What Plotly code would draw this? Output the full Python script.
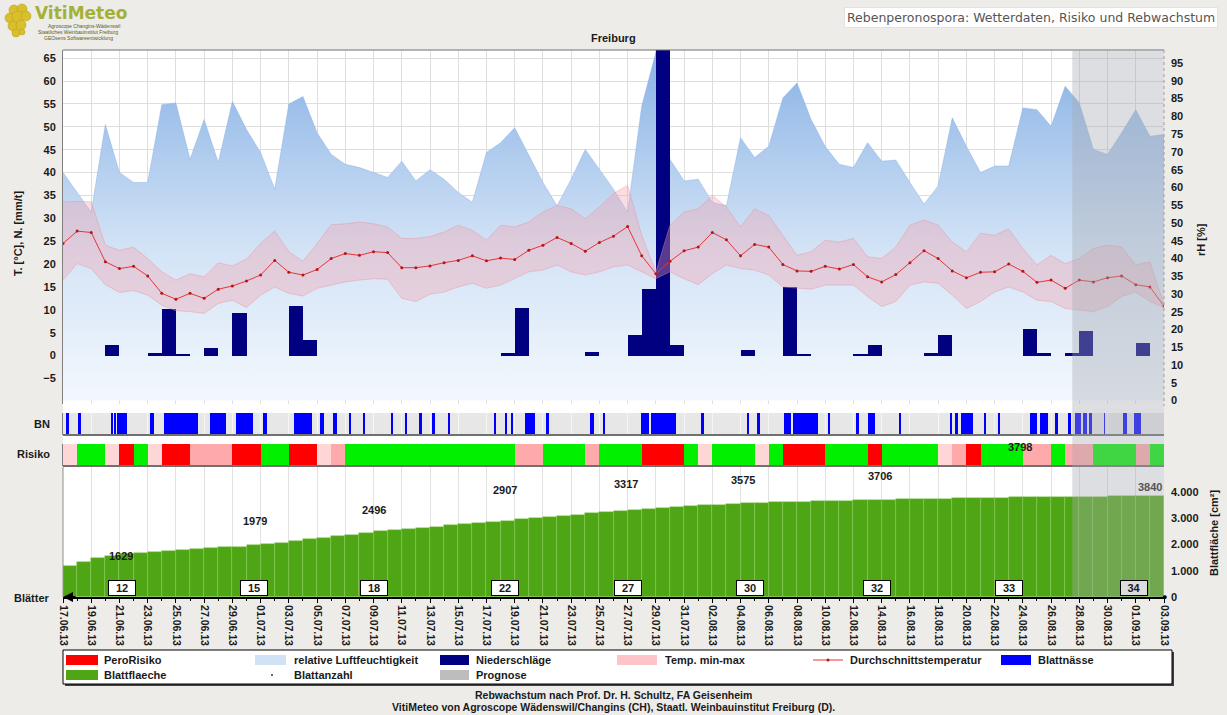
import plotly.graph_objects as go
import pandas as pd

W, H = 1227, 715
def px(x): return x / W
def py(y): return 1 - y / H

FONT = "Liberation Sans, Arial, sans-serif"

# ---------------- data ----------------
dates = pd.date_range("2013-06-17", "2013-09-03", freq="D")
day_index = list(range(len(dates)))            # 0 .. 78
date_labels = [d.strftime("%d.%m.%y") for d in dates]

rel_humidity = [64.2, 58.6, 53.0, 77.7, 64.2, 61.4, 61.4, 83.3, 83.8, 67.9,
                79.1, 67.0, 84.2, 76.3, 69.8, 59.5, 83.5, 85.6, 75.4, 69.3,
                66.5, 65.6, 64.2, 62.8, 67.4, 61.8, 65.0, 62.3, 58.6, 55.8,
                69.8, 72.6, 76.8, 68.9, 61.4, 54.8, 62.3, 70.7, 65.1, 59.5,
                53.0, 82.9, 98.0, 67.9, 61.8, 62.3, 55.8, 54.8, 74.0, 68.4,
                71.6, 85.2, 89.4, 79.1, 71.5, 66.5, 65.6, 72.6, 67.4, 67.7,
                61.4, 55.3, 60.4, 79.6, 71.6, 64.2, 66.0, 66.0, 82.4, 81.9,
                77.2, 88.5, 83.8, 70.7, 69.3, 75.4, 81.9, 74.4, 74.9]

temp_mean = [24.5, 27.2, 26.9, 20.5, 19.0, 19.5, 17.4, 13.6, 12.3, 13.6,
             12.5, 14.5, 15.2, 16.3, 17.6, 20.8, 18.2, 17.6, 18.8, 21.2,
             22.3, 21.9, 22.7, 22.5, 19.2, 19.2, 19.6, 20.3, 20.8, 21.8,
             20.7, 21.3, 21.0, 23.0, 24.1, 25.8, 24.5, 22.8, 24.7, 26.1,
             28.2, 21.8, 17.9, 20.6, 22.9, 23.7, 26.9, 25.3, 21.8, 24.3,
             23.7, 19.9, 18.5, 18.4, 19.5, 18.9, 19.9, 17.2, 16.1, 17.7,
             20.3, 22.9, 21.2, 18.5, 17.0, 18.2, 18.3, 20.0, 18.4, 16.0,
             16.5, 14.7, 16.5, 16.1, 17.0, 17.4, 15.5, 15.0, 10.8]

temp_max = [33.6, 33.7, 33.6, 24.1, 23.0, 23.7, 21.2, 18.3, 16.5, 17.9,
            17.2, 20.3, 19.6, 21.1, 24.5, 27.2, 22.7, 20.6, 24.5, 28.6,
            28.8, 29.2, 28.8, 28.1, 25.6, 25.6, 26.0, 27.0, 28.5, 27.4,
            25.2, 28.5, 28.1, 29.2, 31.4, 32.8, 32.1, 29.9, 32.5, 35.4,
            37.2, 26.3, 18.3, 28.5, 31.4, 32.1, 35.0, 32.5, 28.1, 32.1,
            30.6, 26.3, 21.9, 22.7, 25.2, 24.8, 25.6, 21.6, 21.2, 23.7,
            28.5, 29.6, 28.5, 24.8, 22.7, 26.7, 26.3, 27.7, 23.4, 19.8,
            21.9, 20.1, 21.2, 23.4, 24.1, 23.7, 19.8, 20.5, 11.2]

temp_min = [16.5, 20.1, 19.0, 15.5, 13.8, 14.2, 13.2, 11.0, 9.8, 9.6,
            9.2, 11.4, 12.1, 10.5, 13.2, 15.0, 13.6, 13.0, 14.7, 15.4,
            16.1, 16.5, 16.8, 16.7, 12.5, 11.8, 13.4, 13.9, 15.0, 15.8,
            14.7, 15.4, 16.8, 18.3, 18.7, 19.8, 18.3, 17.6, 18.3, 19.4,
            19.8, 18.3, 16.8, 18.3, 16.8, 15.5, 17.9, 19.8, 19.0, 18.7,
            17.6, 15.0, 14.7, 14.5, 15.4, 15.4, 15.4, 12.9, 10.7, 11.8,
            15.4, 16.1, 15.8, 13.2, 10.3, 11.8, 13.9, 15.0, 13.9, 12.1,
            11.8, 10.3, 9.9, 9.6, 10.7, 12.9, 13.9, 11.8, 10.5]

precip = [0, 0, 0, 2.2, 0, 0, 0.5, 10.2, 0.3, 0,
          1.6, 0, 9.2, 0, 0, 0, 10.9, 3.4, 0, 0,
          0, 0, 0, 0, 0, 0, 0, 0, 0, 0,
          0, 0.5, 10.4, 0, 0, 0, 0, 0.7, 0, 0,
          4.4, 14.5, 68.0, 2.2, 0, 0, 0, 0, 1.2, 0,
          0, 15.0, 0.3, 0, 0, 0, 0.2, 2.2, 0, 0,
          0, 0.5, 4.5, 0, 0, 0, 0, 0, 5.7, 0.6,
          0, 0.6, 5.4, 0, 0, 0, 2.8, 0, 0]

# leaf wetness periods (start / end, in days since 17.06.13)
bn_start = [0.19, 1.09, 3.45, 3.62, 3.85, 6.15, 7.16, 10.4, 12.29, 14.2,
            16.38, 18.2, 19.1, 20.23, 21.23, 23.24, 24.26, 25.28, 26.14, 27.3,
            30.57, 31.33, 31.73, 32.74, 34.28, 37.35, 38.3, 40.94, 41.68, 45.2,
            48.5, 49.18, 51.1, 51.73, 54.26, 56.24, 57.06, 59.25, 62.82, 63.18,
            63.6, 65.24, 66.26, 68.48, 69.22, 70.32, 71.23, 71.7, 72.24, 72.71,
            73.76, 75.13, 75.89]
bn_end = [0.43, 1.28, 3.55, 3.72, 4.52, 6.45, 9.57, 11.58, 13.43, 14.42,
          17.64, 18.46, 19.41, 20.4, 21.42, 23.36, 24.4, 25.41, 26.36, 27.45,
          30.71, 31.46, 31.91, 33.42, 34.42, 37.62, 38.38, 41.49, 43.41, 45.39,
          48.63, 49.4, 51.57, 53.49, 54.34, 56.38, 57.55, 59.36, 63.0, 63.38,
          64.48, 65.41, 66.4, 69.03, 69.77, 70.46, 71.42, 72.1, 72.52, 72.93,
          73.81, 75.35, 76.36]

# daily risk class: G = none, L = low, P = medium, R = high
risk_codes = ['L', 'G', 'G', 'L', 'R', 'G', 'L', 'R', 'R', 'P',
              'P', 'P', 'R', 'R', 'G', 'G', 'R', 'R', 'L', 'P',
              'G', 'G', 'G', 'G', 'G', 'G', 'G', 'G', 'G', 'G',
              'G', 'G', 'P', 'P', 'G', 'G', 'G', 'P', 'G', 'G',
              'G', 'R', 'R', 'R', 'G', 'L', 'G', 'G', 'G', 'L',
              'G', 'R', 'R', 'R', 'G', 'G', 'G', 'R', 'G', 'G',
              'G', 'G', 'L', 'P', 'R', 'G', 'G', 'G', 'P', 'P',
              'G', 'P', 'P', 'G', 'G', 'G', 'P', 'G']

leaf_area = [1170, 1340, 1470, 1560, 1629, 1665, 1700, 1735, 1775, 1810,
             1850, 1885, 1920, 1979, 2020, 2075, 2130, 2190, 2250, 2310,
             2370, 2430, 2496, 2540, 2585, 2630, 2680, 2725, 2770, 2815,
             2860, 2907, 2955, 3000, 3045, 3090, 3135, 3180, 3225, 3270,
             3317, 3350, 3385, 3420, 3450, 3485, 3515, 3545, 3575, 3590,
             3605, 3620, 3635, 3648, 3660, 3672, 3684, 3695, 3706, 3716,
             3726, 3736, 3745, 3754, 3763, 3772, 3781, 3790, 3798, 3803,
             3808, 3813, 3818, 3823, 3828, 3832, 3836, 3840]

leaf_label_days = [4, 13, 22, 31, 40, 48, 58, 68, 77]
leaf_counts = [12, 15, 18, 22, 27, 30, 32, 33, 34]
leaf_count_days = [4, 13, 22, 31, 40, 48, 57, 67, 75]
forecast_from = 71.5

# ---------------- styling / geometry ----------------
X_L, X_R = 63, 1164
MAIN = (50, 404)
BN = (413, 435)
RISK = (444, 466)
LEAF = (467, 597)
XRANGE = [0, 78]
risk_colors = {'G': '#00f000', 'R': '#ff0000', 'P': '#ffaaaa', 'L': '#ffd6d6'}
leaf_label_dx = [0.1, 0.6, 0.0, 0.3, -0.1, 0.2, -0.1, -0.2, 0.0]
leaf_label_py = [556, 521, 510, 490, 484, 480, 476, 447, 487]
leaf_count_dx = [0.2, 0.5, 0.0, 0.3, 0.0, 0.7, 0.7, 0.0, 0.9]
BG = '#eeece8'

fig = go.Figure()

# relative humidity (right axis, base subplot)
fig.add_trace(go.Scatter(
    x=day_index, y=rel_humidity, xaxis='x', yaxis='y', mode='lines',
    line=dict(width=0.6, color='rgba(130,170,225,0.7)'), fill='tozeroy',
    fillgradient=dict(type='vertical', start=0, stop=95,
                      colorscale=[[0, '#f3f8fd'], [0.45, '#d3e3f6'], [1, '#8db5e6']]),
    name='relative Luftfeuchtigkeit', showlegend=False, hoverinfo='skip'))

# precipitation bars (left axis)
fig.add_trace(go.Bar(
    x=[d + 0.5 for d in day_index], y=precip, width=1.0, xaxis='x', yaxis='y2',
    marker=dict(color='#000080', line=dict(width=0)), name='Niederschläge', showlegend=False))

# temperature band
fig.add_trace(go.Scatter(
    x=day_index, y=temp_max, xaxis='x', yaxis='y2', mode='lines',
    line=dict(width=0.8, color='rgba(235,140,150,0.5)'), showlegend=False, hoverinfo='skip'))
fig.add_trace(go.Scatter(
    x=day_index, y=temp_min, xaxis='x', yaxis='y2', mode='lines', fill='tonexty',
    fillcolor='rgba(245,160,172,0.36)',
    line=dict(width=0.8, color='rgba(235,140,150,0.5)'), name='Temp. min-max', showlegend=False))

# mean temperature
fig.add_trace(go.Scatter(
    x=day_index, y=temp_mean, xaxis='x', yaxis='y2', mode='lines+markers',
    line=dict(width=1, color='#e8353a'), marker=dict(size=3, color='#b01818'),
    name='Durchschnittstemperatur', showlegend=False))

# leaf wetness
fig.add_trace(go.Bar(
    x=[(s + e) / 2 for s, e in zip(bn_start, bn_end)],
    y=[1] * len(bn_start), width=[e - s for s, e in zip(bn_start, bn_end)],
    xaxis='x2', yaxis='y3', marker=dict(color='#0000ff', line=dict(width=0)),
    name='Blattnässe', showlegend=False))

# risk strip
fig.add_trace(go.Bar(
    x=[d + 0.5 for d in range(len(risk_codes))], y=[1] * len(risk_codes), width=1.0,
    xaxis='x3', yaxis='y4', marker=dict(color=[risk_colors[c] for c in risk_codes], line=dict(width=0)),
    name='PeroRisiko', showlegend=False))

# leaf area
fig.add_trace(go.Bar(
    x=[d + 0.5 for d in range(len(leaf_area))], y=leaf_area, width=1.0,
    xaxis='x4', yaxis='y5',
    marker=dict(color='#4fa614', line=dict(width=0.6, color='rgba(140,205,90,0.7)')),
    name='Blattflaeche', showlegend=False))

tickfont = dict(family=FONT, size=11, color='#1a1a1a', weight='bold')
dom_x = [px(X_L), px(X_R)]
def dom_y(a):
    return [py(a[1]), py(a[0])]

fig.update_layout(
    template='none',
    width=W, height=H, margin=dict(l=0, r=0, t=0, b=0, pad=0), autosize=False,
    paper_bgcolor=BG, plot_bgcolor='white', separators=',.',
    barmode='overlay', bargap=0, showlegend=False,
    font=dict(family=FONT, size=11, color='#1a1a1a'),
    xaxis=dict(domain=dom_x, range=XRANGE, anchor='y', showticklabels=False, ticks='',
               showgrid=True, gridcolor='#dedede', gridwidth=1, dtick=2, tick0=0,
               zeroline=False, automargin=False, showline=False),
    yaxis=dict(domain=dom_y(MAIN), anchor='x', side='right', range=[-1.0, 98.7],
               tickvals=list(range(0, 100, 5)), showgrid=False, zeroline=False,
               tickfont=tickfont, ticks='', ticklabelstandoff=6, automargin=False, showline=False),
    yaxis2=dict(overlaying='y', anchor='x', side='left', range=[-10.6, 66.8],
                tickvals=list(range(-5, 70, 5)), showgrid=True, gridcolor='#dedede', gridwidth=1,
                zeroline=True, zerolinecolor='#808080', zerolinewidth=1.5,
                showline=True, linecolor='#808080', linewidth=1, automargin=False,
                tickfont=tickfont, ticks='', ticklabelstandoff=4),
    xaxis2=dict(domain=dom_x, range=XRANGE, anchor='y3', matches='x', showticklabels=False,
                showgrid=True, gridcolor='#f6f6f6', dtick=2, tick0=0, zeroline=False, ticks='',
                automargin=False, showline=False),
    yaxis3=dict(domain=dom_y(BN), anchor='x2', range=[0, 1], showticklabels=False,
                showgrid=False, zeroline=False, showline=True, linecolor='#808080', ticks='',
                automargin=False),
    xaxis3=dict(domain=dom_x, range=XRANGE, anchor='y4', matches='x', showticklabels=False,
                showgrid=False, zeroline=False, ticks='', automargin=False, showline=False),
    yaxis4=dict(domain=dom_y(RISK), anchor='x3', range=[0, 1], showticklabels=False,
                showgrid=False, zeroline=False, showline=True, linecolor='#808080', ticks='',
                automargin=False),
    xaxis4=dict(domain=dom_x, range=XRANGE, anchor='y5', matches='x',
                tickvals=day_index[::2], ticktext=date_labels[::2], tickangle=90,
                tickfont=dict(family=FONT, size=10.5, color='#1a1a1a', weight='bold'),
                showgrid=True, gridcolor='#e2e2e2', zeroline=False, automargin=False,
                showline=True, linecolor='black', linewidth=2,
                ticks='outside', ticklen=4, tickcolor='black',
                minor=dict(tickvals=day_index, ticks='outside', ticklen=2, tickcolor='black')),
    yaxis5=dict(domain=dom_y(LEAF), anchor='x4', side='right', range=[0, 4950],
                tickvals=[0, 1000, 2000, 3000, 4000], tickformat=',d', automargin=False,
                showgrid=False, zeroline=False, tickfont=tickfont, ticks='', ticklabelstandoff=6,
                showline=False),
)

shapes = []
ann = []

def rect(x0, y0, x1, y1, fill, line=None, lw=0, layer='below'):
    shapes.append(dict(type='rect', xref='paper', yref='paper', x0=px(x0), x1=px(x1),
                       y0=py(y1), y1=py(y0), fillcolor=fill, layer=layer,
                       line=dict(width=lw, color=line or fill)))

def hline(x0, x1, y, color, width, dash='solid', layer='above'):
    shapes.append(dict(type='line', xref='paper', yref='paper', x0=px(x0), x1=px(x1),
                       y0=py(y), y1=py(y), line=dict(color=color, width=width, dash=dash), layer=layer))

def vline(x, y0, y1, color, width, dash='solid', layer='above'):
    shapes.append(dict(type='line', xref='paper', yref='paper', x0=px(x), x1=px(x),
                       y0=py(y0), y1=py(y1), line=dict(color=color, width=width, dash=dash), layer=layer))

def text(x, y, s, size=11, color='#1a1a1a', bold=True, xanchor='left', family=FONT, **kw):
    ann.append(dict(x=px(x), y=py(y), xref='paper', yref='paper', text=s, showarrow=False,
                    xanchor=xanchor, yanchor='middle',
                    font=dict(family=family, size=size, color=color, weight='bold' if bold else 'normal'), **kw))

# white chart area and BN background
rect(X_L, MAIN[0], X_R, LEAF[1], 'white')
rect(X_L, BN[0], X_R, BN[1], '#e7e7e7')

# borders
hline(X_L, X_R, MAIN[0], '#707070', 1.2)
hline(X_L, X_R, BN[1], '#707070', 2)
hline(X_L, X_R, RISK[1], '#707070', 2)
vline(X_L, LEAF[0], LEAF[1], '#909090', 1)
vline(X_R, MAIN[0], MAIN[1] + 2, '#9a9a9a', 1, dash='dot')

# forecast overlay
shapes.append(dict(type='rect', xref='x', yref='paper', x0=forecast_from, x1=XRANGE[1],
                   y0=py(LEAF[1]), y1=py(MAIN[0]), fillcolor='rgba(165,168,175,0.38)',
                   line=dict(width=0), layer='above'))

# axis titles
ann.append(dict(x=px(18), y=py(234), xref='paper', yref='paper', text='T. [°C], N. [mm/t]',
                xanchor='center', yanchor='middle',
                textangle=-90, showarrow=False, font=dict(family=FONT, size=11, color='#1a1a1a', weight='bold')))
ann.append(dict(x=px(1201), y=py(240), xref='paper', yref='paper', text='rH [%]',
                xanchor='center', yanchor='middle',
                textangle=-90, showarrow=False, font=dict(family=FONT, size=11, color='#1a1a1a', weight='bold')))
ann.append(dict(x=px(1214), y=py(533), xref='paper', yref='paper', text='Blattfläche [cm²]',
                xanchor='center', yanchor='middle',
                textangle=-90, showarrow=False, font=dict(family=FONT, size=11, color='#1a1a1a', weight='bold')))

# strip labels
text(52, 424, 'BN', xanchor='right')
text(52, 454, 'Risiko', xanchor='right')
text(52, 598, 'Blätter', xanchor='right')

# leaf area labels
for i, d in enumerate(leaf_label_days):
    ann.append(dict(x=d + leaf_label_dx[i], y=py(leaf_label_py[i]), xref='x4', yref='paper',
                    xanchor='center', yanchor='middle',
                    text=str(leaf_area[d]), showarrow=False,
                    font=dict(family=FONT, size=11, color='#555' if d >= forecast_from else '#1a1a1a', weight='bold')))

# leaf count boxes
for i, d in enumerate(leaf_count_days):
    ann.append(dict(x=d + leaf_count_dx[i], y=340, xref='x4', yref='y5', text=str(leaf_counts[i]),
                    xanchor='center', yanchor='middle',
                    showarrow=False, bgcolor='#dcdcdc' if d >= forecast_from else 'white',
                    bordercolor='black', borderwidth=1, borderpad=1, width=24,
                    font=dict(family=FONT, size=11, color='#1a1a1a', weight='bold')))

# axis arrow / end dot
ann.append(dict(x=0, y=0, xref='x4', yref='y5', ax=14, ay=0, text='', showarrow=True,
                arrowhead=2, arrowsize=1, arrowwidth=2, arrowcolor='black'))
ann.append(dict(x=XRANGE[1], y=0, xref='x4', yref='y5', text='●', showarrow=False,
                xanchor='center', yanchor='middle', font=dict(size=9, color='black')))

# title / header
text(613, 38, 'Freiburg', xanchor='center')
ann.append(dict(x=px(1218), y=py(18), xref='paper', yref='paper', xanchor='right', yanchor='middle',
                text='Rebenperonospora: Wetterdaten, Risiko und Rebwachstum', showarrow=False,
                bgcolor='white', bordercolor='#e2e2e2', borderwidth=1, borderpad=2,
                font=dict(family='DejaVu Sans, sans-serif', size=12.5, color='#555555')))

# logo
for cx, cy, r in [(14, 10, 5), (22, 9, 5), (10, 18, 5), (18, 17, 6), (26, 16, 5),
                  (13, 26, 5), (21, 25, 5), (16, 33, 4), (22, 32, 3)]:
    shapes.append(dict(type='circle', xref='paper', yref='paper', x0=px(cx - r), x1=px(cx + r),
                       y0=py(cy + r), y1=py(cy - r), fillcolor='#d9bf2e',
                       line=dict(width=0.5, color='#b89a18'), layer='above'))
text(33, 13, 'VitiMeteo', size=17, color='#a3b236', family='DejaVu Sans, sans-serif')
text(46, 26, 'Agroscope Changins-Wädenswil', size=5, color='#55601c', bold=False)
text(36, 32, 'Staatliches Weinbauinstitut Freiburg', size=5, color='#55601c', bold=False)
text(42, 38, 'GEOsens Softwareentwicklung', size=5, color='#55601c', bold=False)

# legend
rect(65, 652, 1174, 686, '#404040', layer='above')
rect(63, 650, 1172, 684, 'white', line='black', lw=1, layer='above')
R1, R2 = 660, 675
legend_items = [
    (66, 98, R1, '#ff0000', 'PeroRisiko', 102),
    (255, 286, R1, '#d2e2f6', 'relative Luftfeuchtigkeit', 292),
    (440, 469, R1, '#000080', 'Niederschläge', 474),
    (617, 657, R1, '#ffc4c8', 'Temp. min-max', 663),
    (1001, 1031, R1, '#0000ff', 'Blattnässe', 1036),
    (66, 98, R2, '#4fa614', 'Blattflaeche', 102),
    (440, 469, R2, '#bdbdbd', 'Prognose', 474),
]
for x0, x1, yc, col, lab, tx in legend_items:
    rect(x0, yc - 5, x1, yc + 5, col, layer='above')
    text(tx, yc, lab, size=11)
hline(813, 843, R1, '#e8353a', 1)
shapes.append(dict(type='circle', xref='paper', yref='paper', x0=px(826.5), x1=px(829.5),
                   y0=py(R1 + 1.5), y1=py(R1 - 1.5), fillcolor='#b01818', line=dict(width=0), layer='above'))
text(848, R1, 'Durchschnittstemperatur', size=11)
shapes.append(dict(type='circle', xref='paper', yref='paper', x0=px(271), x1=px(273),
                   y0=py(R2 + 1), y1=py(R2 - 1), fillcolor='#333', line=dict(width=0), layer='above'))
text(292, R2, 'Blattanzahl', size=11)

# footer
text(613, 695, 'Rebwachstum nach Prof. Dr. H. Schultz, FA Geisenheim', size=10.5, xanchor='center')
text(613, 707, 'VitiMeteo von Agroscope Wädenswil/Changins (CH), Staatl. Weinbauinstitut Freiburg (D).',
     size=10.5, xanchor='center')

fig.update_layout(shapes=shapes, annotations=ann)
fig.write_html("out.html",
               config={'displayModeBar': False, 'displaylogo': False},
               post_script="document.body.style.margin='0';document.body.style.padding='0';"
                           "document.body.style.overflow='hidden';"
                           "document.body.style.background='" + BG + "';")
